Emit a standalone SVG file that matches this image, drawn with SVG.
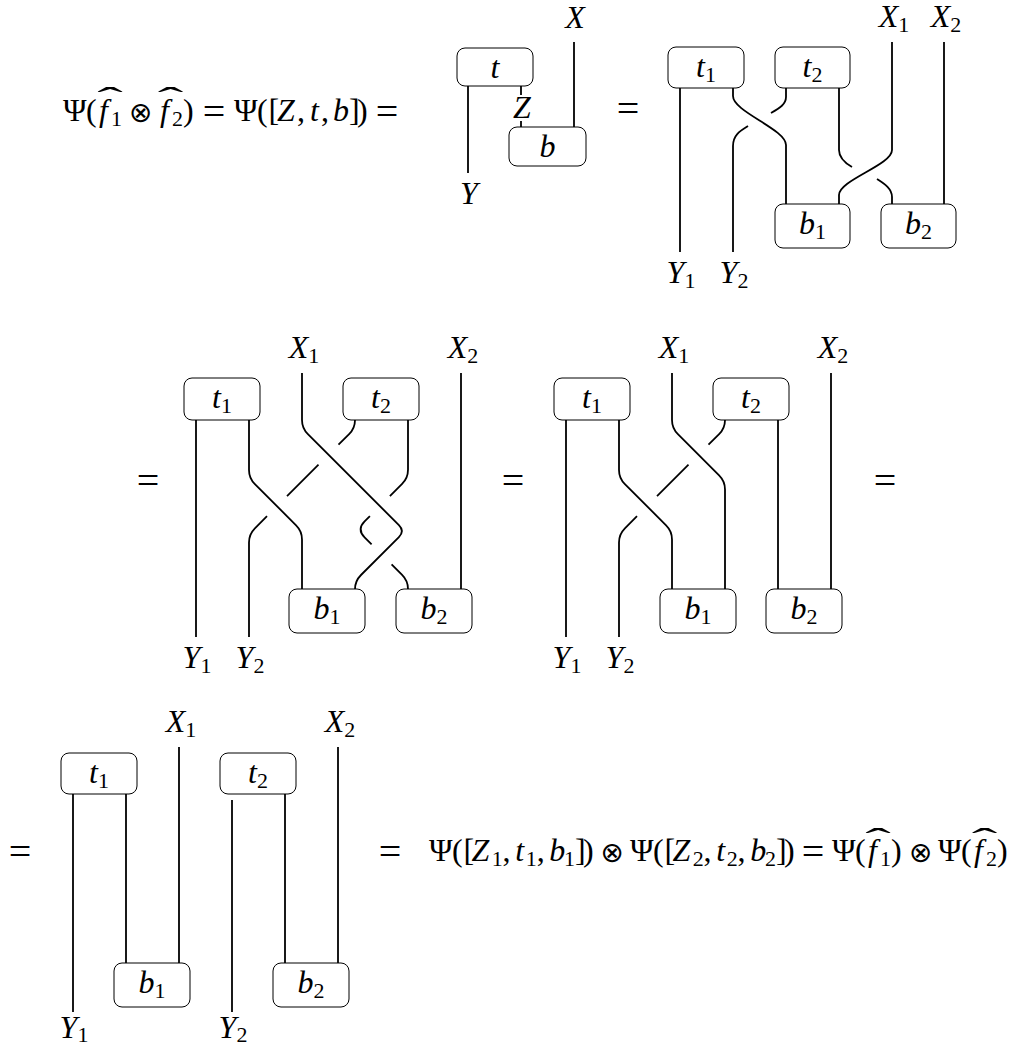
<svg xmlns="http://www.w3.org/2000/svg" width="1021" height="1048" viewBox="0 0 1021 1048">
<style>
.w{fill:none;stroke:#000;stroke-width:1.8}
.bx{fill:#fff;stroke:#000;stroke-width:1}
.m{font-family:"Liberation Serif","DejaVu Serif",serif;font-size:32px;fill:#000}
.i{font-style:italic}
.s{font-size:22px}
.op{font-family:"DejaVu Sans",sans-serif;font-size:28px}
.eq{font-size:40px}
</style>
<rect width="1021" height="1048" fill="#fff"/>

<!-- formulas -->
<g id="formula-top">
<text class="m" y="120.5"><tspan x="63">Ψ</tspan><tspan x="86">(</tspan><tspan class="i" x="99">f</tspan><tspan class="s" x="111" y="125.5">1</tspan><tspan class="i" x="160" y="120.5">f</tspan><tspan class="s" x="172" y="125.5">2</tspan><tspan x="183" y="120.5">)</tspan><tspan x="234">Ψ</tspan><tspan x="257">(</tspan><tspan x="268.5">[</tspan><tspan class="i" x="277">Z</tspan><tspan x="297">,</tspan><tspan class="i" x="310">t</tspan><tspan x="321">,</tspan><tspan class="i" x="333">b</tspan><tspan x="349">]</tspan><tspan x="357">)</tspan></text>
<text class="m op" x="140.5" y="121.5" text-anchor="middle">⊗</text>
<text class="m eq" x="214" y="125" text-anchor="middle">=</text>
<text class="m eq" x="387" y="125" text-anchor="middle">=</text>
<text class="m" text-anchor="middle" transform="translate(110,109) scale(2.4,1)">ˆ</text>
<text class="m" text-anchor="middle" transform="translate(170.5,109) scale(2.4,1)">ˆ</text>
</g>

<g id="formula-bottom">
<text class="m" y="861"><tspan x="429">Ψ</tspan><tspan x="452">(</tspan><tspan x="463.4">[</tspan><tspan class="i" x="471.6">Z</tspan><tspan class="s" x="491.7" y="866">1</tspan><tspan x="502.5" y="861">,</tspan><tspan class="i" x="515.2">t</tspan><tspan class="s" x="525.8" y="866">1</tspan><tspan x="536.7" y="861">,</tspan><tspan class="i" x="549.3">b</tspan><tspan class="s" x="564" y="866">1</tspan><tspan x="575" y="861">]</tspan><tspan x="583">)</tspan><tspan x="630">Ψ</tspan><tspan x="653">(</tspan><tspan x="664.4">[</tspan><tspan class="i" x="672.6">Z</tspan><tspan class="s" x="692.7" y="866">2</tspan><tspan x="703.5" y="861">,</tspan><tspan class="i" x="716.2">t</tspan><tspan class="s" x="726.8" y="866">2</tspan><tspan x="737.6" y="861">,</tspan><tspan class="i" x="750.3">b</tspan><tspan class="s" x="765" y="866">2</tspan><tspan x="776" y="861">]</tspan><tspan x="784">)</tspan><tspan x="832">Ψ</tspan><tspan x="855">(</tspan><tspan class="i" x="868">f</tspan><tspan class="s" x="880" y="866">1</tspan><tspan x="891" y="861">)</tspan><tspan x="938">Ψ</tspan><tspan x="961">(</tspan><tspan class="i" x="974">f</tspan><tspan class="s" x="986" y="866">2</tspan><tspan x="997" y="861">)</tspan></text>
<text class="m op" x="612" y="862" text-anchor="middle">⊗</text>
<text class="m op" x="920.5" y="862" text-anchor="middle">⊗</text>
<text class="m eq" x="813" y="865" text-anchor="middle">=</text>
<text class="m" text-anchor="middle" transform="translate(878,849.5) scale(2.4,1)">ˆ</text>
<text class="m" text-anchor="middle" transform="translate(984.5,849.5) scale(2.4,1)">ˆ</text>
</g>

<g id="equals">
<text class="m eq" x="628" y="122" text-anchor="middle">=</text>
<text class="m eq" x="148" y="494" text-anchor="middle">=</text>
<text class="m eq" x="513" y="494" text-anchor="middle">=</text>
<text class="m eq" x="885" y="494" text-anchor="middle">=</text>
<text class="m eq" x="20" y="865" text-anchor="middle">=</text>
<text class="m eq" x="390" y="865" text-anchor="middle">=</text>
</g>

<!-- connectors -->
<g id="connectors" class="w">
<!-- D1 -->
<path d="M468,86 V173"/>
<path d="M521,86 V95"/>
<path d="M521,121 V127"/>
<path d="M574,42 V127"/>
<!-- D2 -->
<path d="M680,88 V252"/>
<path d="M733,88 V96 C733,112 786,129 786,145 V204"/>
<path d="M786,88 V97 C786,104 780,108 771,113"/>
<path d="M748,126 C740,131 733,135 733,146 V252"/>
<path d="M892,42 V150 C892,165 839,180 839,195 V204"/>
<path d="M839,88 V150 C839,158 845,163 852,167"/>
<path d="M877,179 C885,184 892,189 892,197 V204"/>
<path d="M944,42 V204"/>
<!-- D3 -->
<path d="M196,420 V637"/>
<path d="M249,420 V470 C249,475.3 251.1,480.4 254.9,484.1 L296.1,525.3 C299.9,529.1 302,534.2 302,539.4 V589"/>
<path d="M302,373 V420 C302,425.3 304.1,430.4 307.9,434.1 L398.9,525.1 Q404.9,531.1 398.9,537.1 L361,575 C357.2,578.8 355,583.9 355,589.2"/>
<path d="M355,420 C355,425.3 352.9,430.4 349.1,434.1 L338.5,444.7"/>
<path d="M318.5,464.7 L287,496.2"/>
<path d="M267,516.2 L254.9,528.3 C251.1,532.1 249,537.2 249,542.5 V637"/>
<path d="M408,420 V469.8 C408,475.1 405.9,480.2 402.1,483.9 L389.9,496.1"/>
<path d="M369.9,516.1 L364.6,521.4 Q356.6,529.4 364.6,537.4 L371.6,544.4"/>
<path d="M391.6,564.4 L402.1,574.9 C405.9,578.7 408,583.8 408,589"/>
<path d="M461,373 V589"/>
<!-- D4 -->
<path d="M566,420 V637"/>
<path d="M619,420 V470 C619,475.3 621.1,480.4 624.9,484.1 L666.1,525.3 C669.9,529.1 672,534.2 672,539.4 V589"/>
<path d="M672,373 V420 C672,425.3 674.1,430.4 677.9,434.1 L719.1,475.3 C722.9,479.1 725,484.2 725,489.4 V589"/>
<path d="M725,420 C725,425.3 722.9,430.4 719.1,434.1 L708.5,444.7"/>
<path d="M688.5,464.7 L657,496.2"/>
<path d="M637,516.2 L624.9,528.3 C621.1,532.1 619,537.2 619,542.5 V637"/>
<path d="M778,420 V589"/>
<path d="M831,373 V589"/>
<!-- D5 -->
<path d="M73,794 V1012"/>
<path d="M126,794 V963"/>
<path d="M179,747 V963"/>
<path d="M232,800 V1012"/>
<path d="M285,794 V963"/>
<path d="M338,747 V963"/>
</g>

<!-- D1 nodes -->
<g id="d1-t"><rect class="bx" x="457" y="48" width="76" height="38" rx="8"/><text class="m i" x="495" y="78" text-anchor="middle">t</text></g>
<g id="d1-b"><rect class="bx" x="509" y="127" width="77" height="39" rx="8"/><text class="m i" x="547.5" y="157" text-anchor="middle">b</text></g>
<g id="d1-labels">
<text class="m i" x="575" y="28" text-anchor="middle">X</text>
<text class="m i" x="469" y="204" text-anchor="middle">Y</text>
<text class="m i" x="522" y="118" text-anchor="middle">Z</text>
</g>

<!-- D2 nodes -->
<g id="d2-t1"><rect class="bx" x="668" y="47" width="76" height="41" rx="8"/><text class="m" x="706" y="77" text-anchor="middle"><tspan class="i">t</tspan><tspan class="s" dy="5">1</tspan></text></g>
<g id="d2-t2"><rect class="bx" x="775" y="47" width="75" height="41" rx="8"/><text class="m" x="812.5" y="77" text-anchor="middle"><tspan class="i">t</tspan><tspan class="s" dy="5">2</tspan></text></g>
<g id="d2-b1"><rect class="bx" x="775" y="204" width="75" height="44" rx="8"/><text class="m" x="812.5" y="234" text-anchor="middle"><tspan class="i">b</tspan><tspan class="s" dy="5">1</tspan></text></g>
<g id="d2-b2"><rect class="bx" x="881" y="204" width="75" height="44" rx="8"/><text class="m" x="918.5" y="234" text-anchor="middle"><tspan class="i">b</tspan><tspan class="s" dy="5">2</tspan></text></g>
<g id="d2-labels">
<text class="m" x="894" y="27" text-anchor="middle"><tspan class="i">X</tspan><tspan class="s" dy="5">1</tspan></text>
<text class="m" x="946" y="27" text-anchor="middle"><tspan class="i">X</tspan><tspan class="s" dy="5">2</tspan></text>
<text class="m" x="681" y="283" text-anchor="middle"><tspan class="i">Y</tspan><tspan class="s" dy="5">1</tspan></text>
<text class="m" x="734" y="283" text-anchor="middle"><tspan class="i">Y</tspan><tspan class="s" dy="5">2</tspan></text>
</g>

<!-- D3 nodes -->
<g id="d3-t1"><rect class="bx" x="184" y="378" width="76" height="42" rx="8"/><text class="m" x="222" y="408" text-anchor="middle"><tspan class="i">t</tspan><tspan class="s" dy="5">1</tspan></text></g>
<g id="d3-t2"><rect class="bx" x="343" y="378" width="76" height="42" rx="8"/><text class="m" x="381" y="408" text-anchor="middle"><tspan class="i">t</tspan><tspan class="s" dy="5">2</tspan></text></g>
<g id="d3-b1"><rect class="bx" x="289" y="589" width="76" height="44" rx="8"/><text class="m" x="327" y="619" text-anchor="middle"><tspan class="i">b</tspan><tspan class="s" dy="5">1</tspan></text></g>
<g id="d3-b2"><rect class="bx" x="396" y="589" width="76" height="44" rx="8"/><text class="m" x="434" y="619" text-anchor="middle"><tspan class="i">b</tspan><tspan class="s" dy="5">2</tspan></text></g>
<g id="d3-labels">
<text class="m" x="304" y="358" text-anchor="middle"><tspan class="i">X</tspan><tspan class="s" dy="5">1</tspan></text>
<text class="m" x="463" y="358" text-anchor="middle"><tspan class="i">X</tspan><tspan class="s" dy="5">2</tspan></text>
<text class="m" x="197" y="668" text-anchor="middle"><tspan class="i">Y</tspan><tspan class="s" dy="5">1</tspan></text>
<text class="m" x="250" y="668" text-anchor="middle"><tspan class="i">Y</tspan><tspan class="s" dy="5">2</tspan></text>
</g>

<!-- D4 nodes -->
<g id="d4-t1"><rect class="bx" x="554" y="378" width="76" height="42" rx="8"/><text class="m" x="592" y="408" text-anchor="middle"><tspan class="i">t</tspan><tspan class="s" dy="5">1</tspan></text></g>
<g id="d4-t2"><rect class="bx" x="713" y="378" width="76" height="42" rx="8"/><text class="m" x="751" y="408" text-anchor="middle"><tspan class="i">t</tspan><tspan class="s" dy="5">2</tspan></text></g>
<g id="d4-b1"><rect class="bx" x="660" y="589" width="76" height="44" rx="8"/><text class="m" x="698" y="619" text-anchor="middle"><tspan class="i">b</tspan><tspan class="s" dy="5">1</tspan></text></g>
<g id="d4-b2"><rect class="bx" x="766" y="589" width="76" height="44" rx="8"/><text class="m" x="804" y="619" text-anchor="middle"><tspan class="i">b</tspan><tspan class="s" dy="5">2</tspan></text></g>
<g id="d4-labels">
<text class="m" x="674" y="358" text-anchor="middle"><tspan class="i">X</tspan><tspan class="s" dy="5">1</tspan></text>
<text class="m" x="833" y="358" text-anchor="middle"><tspan class="i">X</tspan><tspan class="s" dy="5">2</tspan></text>
<text class="m" x="567" y="668" text-anchor="middle"><tspan class="i">Y</tspan><tspan class="s" dy="5">1</tspan></text>
<text class="m" x="620" y="668" text-anchor="middle"><tspan class="i">Y</tspan><tspan class="s" dy="5">2</tspan></text>
</g>

<!-- D5 nodes -->
<g id="d5-t1"><rect class="bx" x="61" y="753" width="76" height="41" rx="8"/><text class="m" x="99" y="783" text-anchor="middle"><tspan class="i">t</tspan><tspan class="s" dy="5">1</tspan></text></g>
<g id="d5-t2"><rect class="bx" x="220" y="753" width="76" height="41" rx="8"/><text class="m" x="258" y="783" text-anchor="middle"><tspan class="i">t</tspan><tspan class="s" dy="5">2</tspan></text></g>
<g id="d5-b1"><rect class="bx" x="114" y="963" width="76" height="44" rx="8"/><text class="m" x="152" y="993" text-anchor="middle"><tspan class="i">b</tspan><tspan class="s" dy="5">1</tspan></text></g>
<g id="d5-b2"><rect class="bx" x="273" y="963" width="76" height="44" rx="8"/><text class="m" x="311" y="993" text-anchor="middle"><tspan class="i">b</tspan><tspan class="s" dy="5">2</tspan></text></g>
<g id="d5-labels">
<text class="m" x="181" y="732" text-anchor="middle"><tspan class="i">X</tspan><tspan class="s" dy="5">1</tspan></text>
<text class="m" x="340" y="732" text-anchor="middle"><tspan class="i">X</tspan><tspan class="s" dy="5">2</tspan></text>
<text class="m" x="74" y="1038" text-anchor="middle"><tspan class="i">Y</tspan><tspan class="s" dy="4">1</tspan></text>
<text class="m" x="233" y="1038" text-anchor="middle"><tspan class="i">Y</tspan><tspan class="s" dy="4">2</tspan></text>
</g>
</svg>
